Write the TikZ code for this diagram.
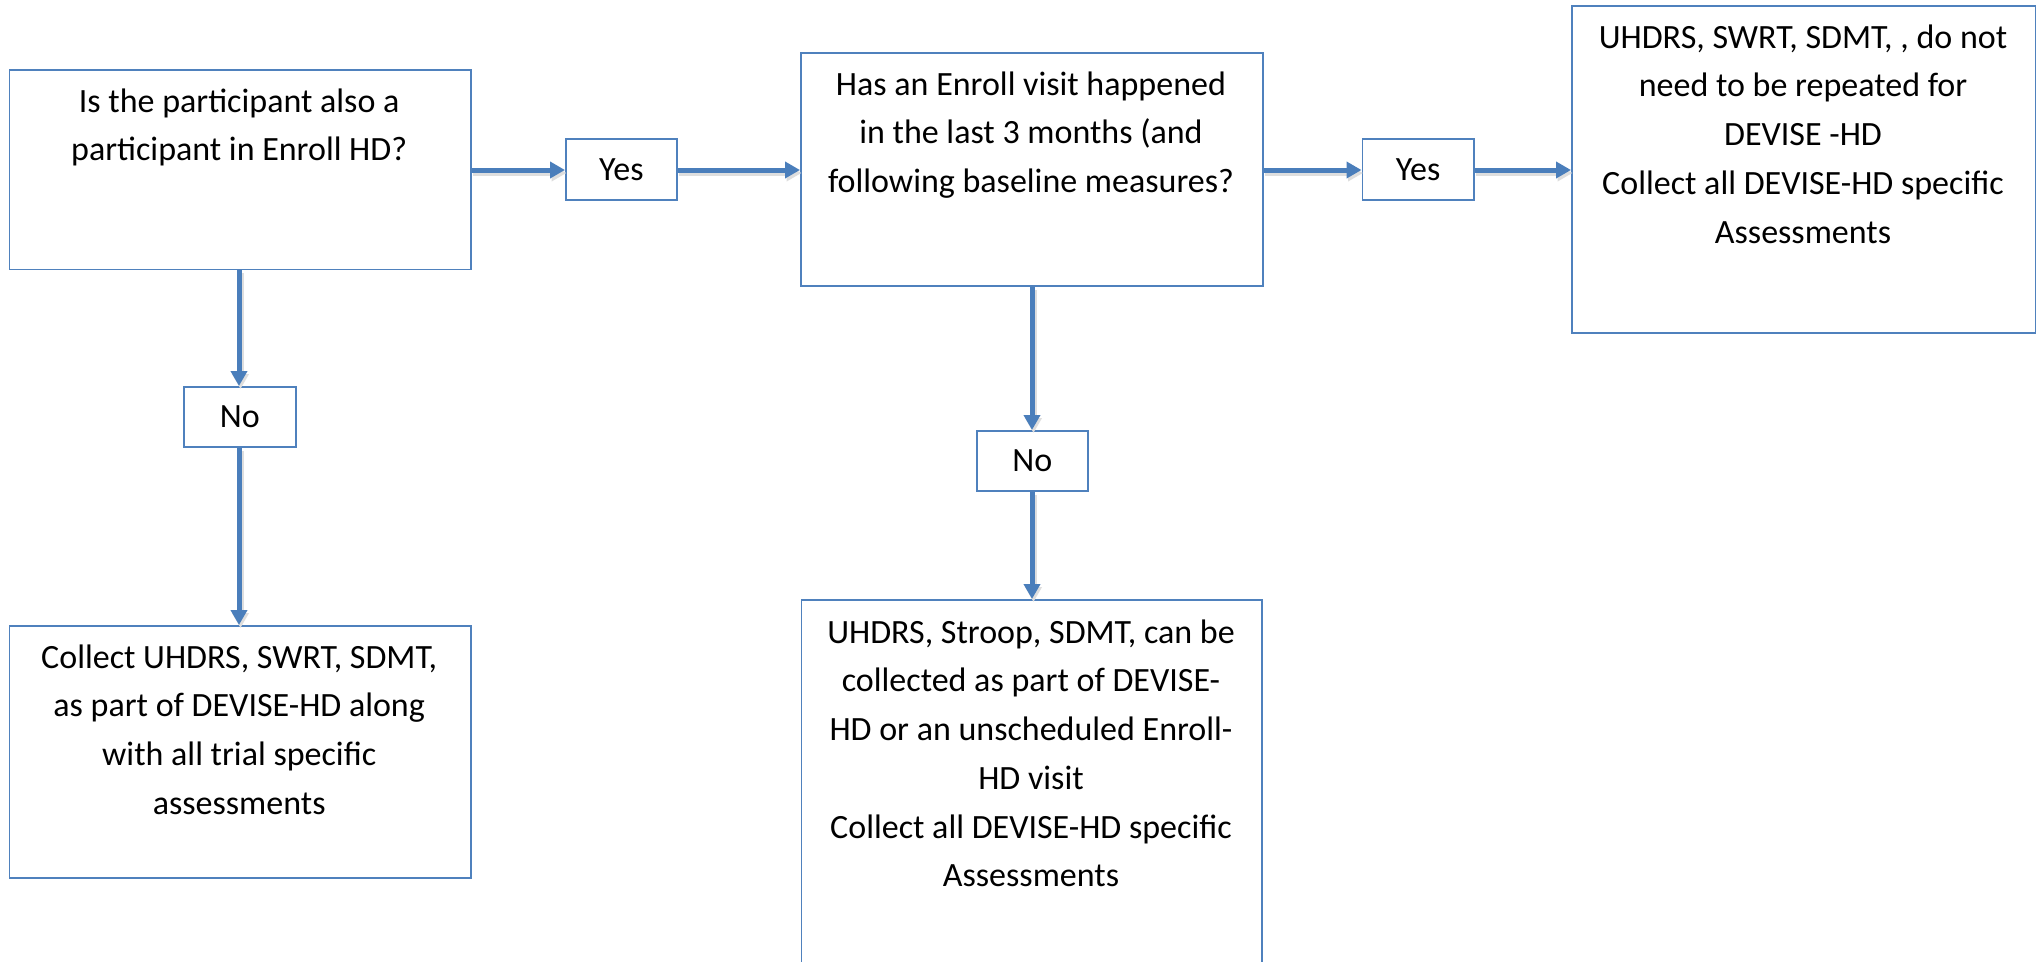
\documentclass[tikz,border=0pt]{standalone}
\usepackage{fontspec}
\setmainfont{Carlito}
\usetikzlibrary{arrows.meta}
\definecolor{boxblue}{HTML}{4F81BD}
\definecolor{arrowblue}{HTML}{4A7EBB}
\begin{document}
\begin{tikzpicture}[x=1pt,y=-1pt,
  box/.style={draw=boxblue, line width=1.8pt, rectangle, inner sep=0pt, anchor=north west},
  tag/.style={draw=boxblue, line width=1.8pt, rectangle, inner sep=0pt, anchor=north west,
    font=\fontsize{34}{40}\selectfont},
  txt/.style={anchor=north, inner sep=0pt, align=center, font=\fontsize{34}{48.7}\selectfont},
  flow/.style={draw=arrowblue, line width=5pt, -{Triangle[length=15pt,width=16pt]},
    preaction={draw=black!13, line width=6pt, transform canvas={shift={(1.5pt,-3pt)}}}}
]
\useasboundingbox[fill=white] (0,0) rectangle (2036,961);

% main boxes
\node[box, minimum width=461.5pt, minimum height=199.5pt] (A) at (8.5,69) {};
\node[box, minimum width=462pt, minimum height=233pt] (B) at (800,52) {};
\node[box, minimum width=464pt, minimum height=327pt] (C) at (1571,5) {};
\node[box, minimum width=461.5pt, minimum height=252pt] (D) at (8.5,625) {};
\node[box, minimum width=460.5pt, minimum height=420pt] (E) at (800.5,599) {};

% small label boxes
\node[tag, minimum width=111pt, minimum height=61pt] (Y1) at (565,138) {Yes};
\node[tag, minimum width=111.5pt, minimum height=61pt] (Y2) at (1361.5,138) {Yes};
\node[tag, minimum width=112pt, minimum height=60pt] (N1) at (183,386) {No};
\node[tag, minimum width=111pt, minimum height=60pt] (N2) at (976,430) {No};

% texts
\node[txt] (tA) at (239.2,76) {\rule{0pt}{36pt}Is the participant also a\\participant in Enroll HD?};
\node[txt] (tB) at (1031,59) {\rule{0pt}{36pt}Has an Enroll visit happened\\in the last 3 months (and\\following baseline measures?};
\node[txt] (tC) at (1803,12) {\rule{0pt}{36pt}UHDRS, SWRT, SDMT, , do not\\need to be repeated for\\DEVISE -HD\\Collect all DEVISE-HD specific\\Assessments};
\node[txt] (tD) at (239.2,632) {\rule{0pt}{36pt}Collect UHDRS, SWRT, SDMT,\\as part of DEVISE-HD along\\with all trial specific\\assessments};
\node[txt] (tE) at (1031,607) {\rule{0pt}{36pt}UHDRS, Stroop, SDMT, can be\\collected as part of DEVISE-\\HD or an unscheduled Enroll-\\HD visit\\Collect all DEVISE-HD specific\\Assessments};

% connector anchor points
\coordinate (a1) at (A.east |- 0,170);
\coordinate (b1) at (B.west |- 0,170);
\coordinate (b2) at (B.east |- 0,170);
\coordinate (c1) at (C.west |- 0,170);
\coordinate (a2) at (239,0 |- A.south);
\coordinate (d1) at (239,0 |- D.north);
\coordinate (bb) at (1032,0 |- B.south);
\coordinate (e1) at (1032,0 |- E.north);

% connectors
\draw[flow] (a1) -- (Y1.west |- a1);
\draw[flow] (Y1.east |- a1) -- (b1);
\draw[flow] (b2) -- (Y2.west |- b2);
\draw[flow] (Y2.east |- b2) -- (c1);
\draw[flow] (a2) -- (N1.north -| a2);
\draw[flow] (N1.south -| a2) -- (d1);
\draw[flow] (bb) -- (N2.north -| bb);
\draw[flow] (N2.south -| bb) -- (e1);
\end{tikzpicture}
\end{document}
